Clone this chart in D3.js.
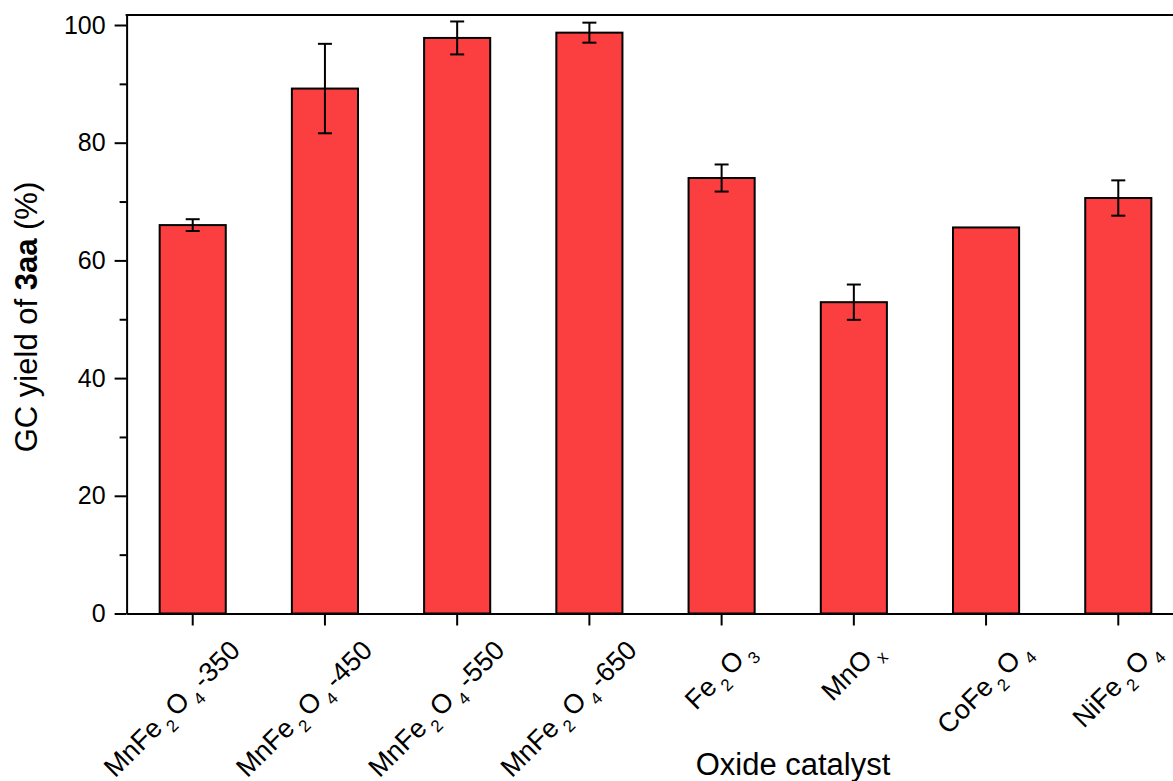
<!DOCTYPE html>
<html>
<head>
<meta charset="utf-8">
<script src="https://cdn.jsdelivr.net/npm/d3@7"></script>
<style>
  body { margin: 0; background: #fff; }
  text { font-family: "Liberation Sans", Arial, sans-serif; fill: #000; }
</style>
</head>
<body>
<script>
// catalysts, {n} marks a subscript
var categories = ["MnFe{2}O{4}-350", "MnFe{2}O{4}-450", "MnFe{2}O{4}-550", "MnFe{2}O{4}-650",
                  "Fe{2}O{3}", "MnO{x}", "CoFe{2}O{4}", "NiFe{2}O{4}"];
var yields = [66.0, 89.2, 97.8, 98.7, 74.0, 52.9, 65.6, 70.6];
var errors = [1.0, 7.6, 2.8, 1.7, 2.3, 3.0, 0, 3.0];
var yTicks = [0, 20, 40, 60, 80, 100];
var yMinorTicks = [10, 30, 50, 70, 90];

var width = 1173, height = 781;
var plotLeft = 126.6, plotRight = 1184.4, plotTop = 15, plotBottom = 613.5;

var svg = d3.select("body").append("svg")
    .attr("width", width)
    .attr("height", height);

var x = d3.scaleBand()
    .domain(d3.range(categories.length))
    .range([plotLeft, plotRight])
    .paddingInner(0.5)
    .paddingOuter(0.25);

var y = d3.scaleLinear()
    .domain([0, 101.7])
    .range([plotBottom, plotTop]);

// bars
svg.append("g").selectAll("rect")
    .data(yields)
  .enter().append("rect")
    .attr("x", function(d, i) { return x(i); })
    .attr("y", function(d) { return y(d); })
    .attr("width", x.bandwidth())
    .attr("height", function(d) { return y(0) - y(d); })
    .attr("fill", "#fb3e3f")
    .attr("stroke", "#000")
    .attr("stroke-width", 2);

// error bars
var eb = svg.append("g").selectAll("g")
    .data(yields.map(function(d, i) { return {i: i, v: d, e: errors[i]}; })
      .filter(function(d) { return d.e > 0; }))
  .enter().append("g")
    .attr("stroke", "#000")
    .attr("stroke-width", 2);

eb.append("line")
    .attr("x1", function(d) { return x(d.i) + x.bandwidth() / 2; })
    .attr("x2", function(d) { return x(d.i) + x.bandwidth() / 2; })
    .attr("y1", function(d) { return y(d.v - d.e); })
    .attr("y2", function(d) { return y(d.v + d.e); });

[-1, 1].forEach(function(s) {
  eb.append("line")
      .attr("x1", function(d) { return x(d.i) + x.bandwidth() / 2 - 7; })
      .attr("x2", function(d) { return x(d.i) + x.bandwidth() / 2 + 7; })
      .attr("y1", function(d) { return y(d.v + s * d.e); })
      .attr("y2", function(d) { return y(d.v + s * d.e); });
});

// axes
var yAxis = svg.append("g")
    .attr("transform", "translate(" + plotLeft + ",0)")
    .call(d3.axisLeft(y).tickValues(yTicks).tickSize(12).tickSizeOuter(0).tickPadding(9));

svg.append("g")
    .attr("transform", "translate(" + plotLeft + ",0)")
    .call(d3.axisLeft(y).tickValues(yMinorTicks).tickSize(7).tickFormat(""))
    .select(".domain").remove();

yAxis.selectAll("text")
    .style("font-size", "25px")
    .attr("font-family", null);

svg.append("g")
    .attr("transform", "translate(0," + plotBottom + ")")
    .call(d3.axisBottom(x).tickSize(12).tickSizeOuter(0).tickFormat(""));

svg.selectAll(".domain, .tick line")
    .attr("stroke", "#000")
    .attr("stroke-width", 2);

// top frame line
svg.append("line")
    .attr("x1", plotLeft - 1).attr("x2", plotRight)
    .attr("y1", plotTop).attr("y2", plotTop)
    .attr("stroke", "#000")
    .attr("stroke-width", 2);

// rotated category labels with subscripts:
// centred under the tick, but the end never goes past tick + 49
svg.append("g").selectAll("text")
    .data(categories)
  .enter().append("text")
    .attr("text-anchor", "end")
    .style("font-size", "27px")
    .each(function(d, i) {
      var t = d3.select(this);
      var parts = d.split(/(\{[^}]*\})/).filter(function(p) { return p.length; });
      var shifted = false;
      parts.forEach(function(p) {
        if (p[0] === "{") {
          t.append("tspan").text(p.slice(1, -1))
              .attr("dx", 4).attr("dy", 9)
              .style("font-size", "17px");
          shifted = true;
        } else {
          t.append("tspan").text(p)
              .attr("dx", shifted ? 4 : 0).attr("dy", shifted ? -9 : 0);
          shifted = false;
        }
      });
      var b = this.getBBox();
      var off = -0.7071 * (b.x + b.y + (b.width + b.height) / 2);
      off = Math.min(off, 49);
      t.attr("transform", "translate(" + (x(i) + x.bandwidth() / 2 + off) + ",652)rotate(-45)");
    });

// axis titles
svg.append("text")
    .attr("x", 793)
    .attr("y", 775)
    .attr("text-anchor", "middle")
    .style("font-size", "31px")
    .text("Oxide catalyst");

var yt = svg.append("text")
    .attr("transform", "translate(37," + 317 + ")rotate(-90)")
    .attr("text-anchor", "middle")
    .style("font-size", "31px");
yt.append("tspan").text("GC yield of ");
yt.append("tspan").text("3aa").style("font-weight", "bold");
yt.append("tspan").text(" (%)");
</script>
</body>
</html>
